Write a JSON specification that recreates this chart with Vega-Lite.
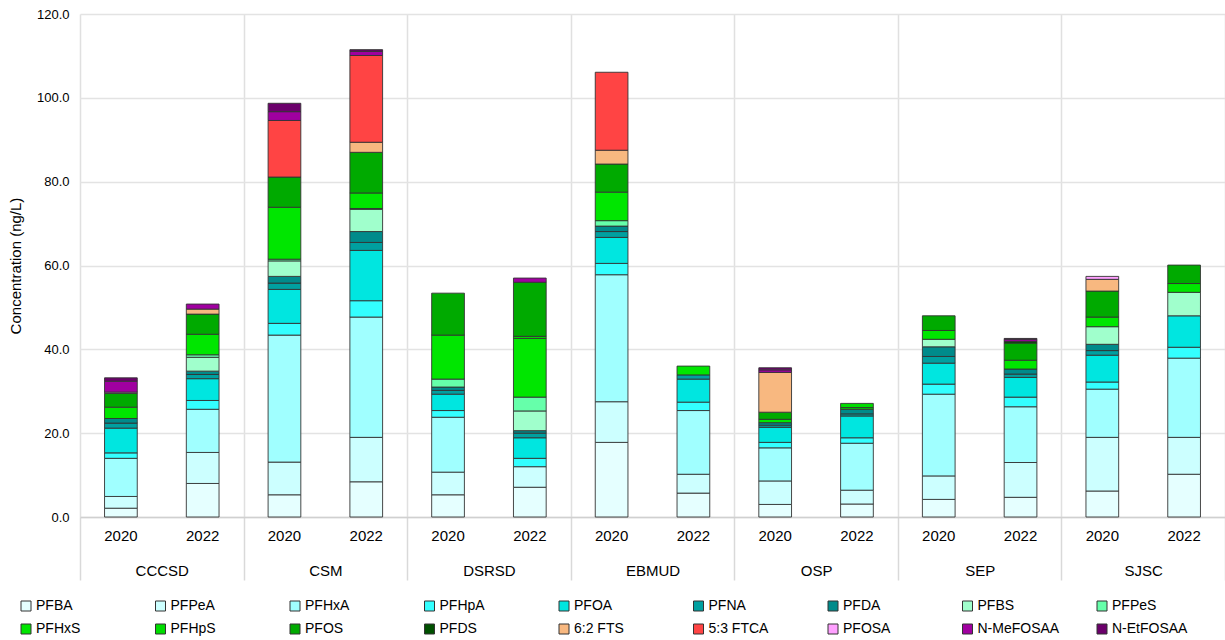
{
  "$schema": "https://vega.github.io/schema/vega-lite/v6.json",
  "autosize": {"type": "none"},
  "padding": {"left": 80, "top": 14, "right": 0, "bottom": 123},
  "width": 1145,
  "height": 503,
  "config": {"font": "Liberation Sans", "view": {"stroke": null}},
  "data": {"values": [
    {"site":"CCCSD","bar":"CCCSD 2020","compound":"PFBA","value":2.1},
    {"site":"CCCSD","bar":"CCCSD 2020","compound":"PFPeA","value":2.8},
    {"site":"CCCSD","bar":"CCCSD 2020","compound":"PFHxA","value":9.1},
    {"site":"CCCSD","bar":"CCCSD 2020","compound":"PFHpA","value":1.3},
    {"site":"CCCSD","bar":"CCCSD 2020","compound":"PFOA","value":5.9},
    {"site":"CCCSD","bar":"CCCSD 2020","compound":"PFNA","value":1.2},
    {"site":"CCCSD","bar":"CCCSD 2020","compound":"PFDA","value":1.1},
    {"site":"CCCSD","bar":"CCCSD 2020","compound":"PFHxS","value":2.7},
    {"site":"CCCSD","bar":"CCCSD 2020","compound":"PFOS","value":3.3},
    {"site":"CCCSD","bar":"CCCSD 2020","compound":"PFOSA","value":0.3},
    {"site":"CCCSD","bar":"CCCSD 2020","compound":"N-MeFOSAA","value":2.6},
    {"site":"CCCSD","bar":"CCCSD 2020","compound":"N-EtFOSAA","value":0.8},

    {"site":"CCCSD","bar":"CCCSD 2022","compound":"PFBA","value":8.0},
    {"site":"CCCSD","bar":"CCCSD 2022","compound":"PFPeA","value":7.4},
    {"site":"CCCSD","bar":"CCCSD 2022","compound":"PFHxA","value":10.3},
    {"site":"CCCSD","bar":"CCCSD 2022","compound":"PFHpA","value":2.1},
    {"site":"CCCSD","bar":"CCCSD 2022","compound":"PFOA","value":5.2},
    {"site":"CCCSD","bar":"CCCSD 2022","compound":"PFNA","value":1.0},
    {"site":"CCCSD","bar":"CCCSD 2022","compound":"PFDA","value":0.8},
    {"site":"CCCSD","bar":"CCCSD 2022","compound":"PFBS","value":3.3},
    {"site":"CCCSD","bar":"CCCSD 2022","compound":"PFPeS","value":0.6},
    {"site":"CCCSD","bar":"CCCSD 2022","compound":"PFHxS","value":4.9},
    {"site":"CCCSD","bar":"CCCSD 2022","compound":"PFOS","value":4.8},
    {"site":"CCCSD","bar":"CCCSD 2022","compound":"6:2 FTS","value":1.2},
    {"site":"CCCSD","bar":"CCCSD 2022","compound":"N-MeFOSAA","value":1.2},

    {"site":"CSM","bar":"CSM 2020","compound":"PFBA","value":5.3},
    {"site":"CSM","bar":"CSM 2020","compound":"PFPeA","value":7.8},
    {"site":"CSM","bar":"CSM 2020","compound":"PFHxA","value":30.3},
    {"site":"CSM","bar":"CSM 2020","compound":"PFHpA","value":2.8},
    {"site":"CSM","bar":"CSM 2020","compound":"PFOA","value":8.1},
    {"site":"CSM","bar":"CSM 2020","compound":"PFNA","value":1.5},
    {"site":"CSM","bar":"CSM 2020","compound":"PFDA","value":1.6},
    {"site":"CSM","bar":"CSM 2020","compound":"PFBS","value":3.7},
    {"site":"CSM","bar":"CSM 2020","compound":"PFPeS","value":0.4},
    {"site":"CSM","bar":"CSM 2020","compound":"PFHxS","value":12.4},
    {"site":"CSM","bar":"CSM 2020","compound":"PFOS","value":7.2},
    {"site":"CSM","bar":"CSM 2020","compound":"5:3 FTCA","value":13.5},
    {"site":"CSM","bar":"CSM 2020","compound":"N-MeFOSAA","value":2.1},
    {"site":"CSM","bar":"CSM 2020","compound":"N-EtFOSAA","value":2.0},

    {"site":"CSM","bar":"CSM 2022","compound":"PFBA","value":8.4},
    {"site":"CSM","bar":"CSM 2022","compound":"PFPeA","value":10.6},
    {"site":"CSM","bar":"CSM 2022","compound":"PFHxA","value":28.7},
    {"site":"CSM","bar":"CSM 2022","compound":"PFHpA","value":3.9},
    {"site":"CSM","bar":"CSM 2022","compound":"PFOA","value":12.0},
    {"site":"CSM","bar":"CSM 2022","compound":"PFNA","value":1.9},
    {"site":"CSM","bar":"CSM 2022","compound":"PFDA","value":2.6},
    {"site":"CSM","bar":"CSM 2022","compound":"PFBS","value":5.3},
    {"site":"CSM","bar":"CSM 2022","compound":"PFPeS","value":0.2},
    {"site":"CSM","bar":"CSM 2022","compound":"PFHxS","value":3.7},
    {"site":"CSM","bar":"CSM 2022","compound":"PFOS","value":9.7},
    {"site":"CSM","bar":"CSM 2022","compound":"6:2 FTS","value":2.4},
    {"site":"CSM","bar":"CSM 2022","compound":"5:3 FTCA","value":20.7},
    {"site":"CSM","bar":"CSM 2022","compound":"N-MeFOSAA","value":1.0},
    {"site":"CSM","bar":"CSM 2022","compound":"N-EtFOSAA","value":0.4},

    {"site":"DSRSD","bar":"DSRSD 2020","compound":"PFBA","value":5.3},
    {"site":"DSRSD","bar":"DSRSD 2020","compound":"PFPeA","value":5.4},
    {"site":"DSRSD","bar":"DSRSD 2020","compound":"PFHxA","value":13.1},
    {"site":"DSRSD","bar":"DSRSD 2020","compound":"PFHpA","value":1.6},
    {"site":"DSRSD","bar":"DSRSD 2020","compound":"PFOA","value":3.9},
    {"site":"DSRSD","bar":"DSRSD 2020","compound":"PFNA","value":0.9},
    {"site":"DSRSD","bar":"DSRSD 2020","compound":"PFDA","value":0.8},
    {"site":"DSRSD","bar":"DSRSD 2020","compound":"PFPeS","value":1.9},
    {"site":"DSRSD","bar":"DSRSD 2020","compound":"PFHxS","value":10.5},
    {"site":"DSRSD","bar":"DSRSD 2020","compound":"PFOS","value":10.0},

    {"site":"DSRSD","bar":"DSRSD 2022","compound":"PFBA","value":7.1},
    {"site":"DSRSD","bar":"DSRSD 2022","compound":"PFPeA","value":4.9},
    {"site":"DSRSD","bar":"DSRSD 2022","compound":"PFHpA","value":2.0},
    {"site":"DSRSD","bar":"DSRSD 2022","compound":"PFOA","value":4.9},
    {"site":"DSRSD","bar":"DSRSD 2022","compound":"PFNA","value":1.1},
    {"site":"DSRSD","bar":"DSRSD 2022","compound":"PFDA","value":0.6},
    {"site":"DSRSD","bar":"DSRSD 2022","compound":"PFBS","value":4.7},
    {"site":"DSRSD","bar":"DSRSD 2022","compound":"PFPeS","value":3.3},
    {"site":"DSRSD","bar":"DSRSD 2022","compound":"PFHxS","value":14.0},
    {"site":"DSRSD","bar":"DSRSD 2022","compound":"PFHpS","value":0.5},
    {"site":"DSRSD","bar":"DSRSD 2022","compound":"PFOS","value":12.9},
    {"site":"DSRSD","bar":"DSRSD 2022","compound":"N-MeFOSAA","value":1.0},

    {"site":"EBMUD","bar":"EBMUD 2020","compound":"PFBA","value":17.8},
    {"site":"EBMUD","bar":"EBMUD 2020","compound":"PFPeA","value":9.7},
    {"site":"EBMUD","bar":"EBMUD 2020","compound":"PFHxA","value":30.3},
    {"site":"EBMUD","bar":"EBMUD 2020","compound":"PFHpA","value":2.7},
    {"site":"EBMUD","bar":"EBMUD 2020","compound":"PFOA","value":6.2},
    {"site":"EBMUD","bar":"EBMUD 2020","compound":"PFNA","value":1.4},
    {"site":"EBMUD","bar":"EBMUD 2020","compound":"PFDA","value":1.3},
    {"site":"EBMUD","bar":"EBMUD 2020","compound":"PFPeS","value":1.3},
    {"site":"EBMUD","bar":"EBMUD 2020","compound":"PFHxS","value":6.8},
    {"site":"EBMUD","bar":"EBMUD 2020","compound":"PFOS","value":6.7},
    {"site":"EBMUD","bar":"EBMUD 2020","compound":"6:2 FTS","value":3.3},
    {"site":"EBMUD","bar":"EBMUD 2020","compound":"5:3 FTCA","value":18.6},

    {"site":"EBMUD","bar":"EBMUD 2022","compound":"PFBA","value":5.7},
    {"site":"EBMUD","bar":"EBMUD 2022","compound":"PFPeA","value":4.5},
    {"site":"EBMUD","bar":"EBMUD 2022","compound":"PFHxA","value":15.2},
    {"site":"EBMUD","bar":"EBMUD 2022","compound":"PFHpA","value":2.0},
    {"site":"EBMUD","bar":"EBMUD 2022","compound":"PFOA","value":5.5},
    {"site":"EBMUD","bar":"EBMUD 2022","compound":"PFNA","value":1.0},
    {"site":"EBMUD","bar":"EBMUD 2022","compound":"PFHxS","value":2.1},

    {"site":"OSP","bar":"OSP 2020","compound":"PFBA","value":3.0},
    {"site":"OSP","bar":"OSP 2020","compound":"PFPeA","value":5.6},
    {"site":"OSP","bar":"OSP 2020","compound":"PFHxA","value":7.9},
    {"site":"OSP","bar":"OSP 2020","compound":"PFHpA","value":1.3},
    {"site":"OSP","bar":"OSP 2020","compound":"PFOA","value":3.6},
    {"site":"OSP","bar":"OSP 2020","compound":"PFNA","value":0.5},
    {"site":"OSP","bar":"OSP 2020","compound":"PFDA","value":0.6},
    {"site":"OSP","bar":"OSP 2020","compound":"PFHxS","value":0.8},
    {"site":"OSP","bar":"OSP 2020","compound":"PFOS","value":1.7},
    {"site":"OSP","bar":"OSP 2020","compound":"6:2 FTS","value":9.5},
    {"site":"OSP","bar":"OSP 2020","compound":"N-MeFOSAA","value":0.6},
    {"site":"OSP","bar":"OSP 2020","compound":"N-EtFOSAA","value":0.5},

    {"site":"OSP","bar":"OSP 2022","compound":"PFBA","value":3.1},
    {"site":"OSP","bar":"OSP 2022","compound":"PFPeA","value":3.3},
    {"site":"OSP","bar":"OSP 2022","compound":"PFHxA","value":11.2},
    {"site":"OSP","bar":"OSP 2022","compound":"PFHpA","value":1.3},
    {"site":"OSP","bar":"OSP 2022","compound":"PFOA","value":5.2},
    {"site":"OSP","bar":"OSP 2022","compound":"PFNA","value":0.5},
    {"site":"OSP","bar":"OSP 2022","compound":"PFDA","value":1.1},
    {"site":"OSP","bar":"OSP 2022","compound":"PFHxS","value":0.4},
    {"site":"OSP","bar":"OSP 2022","compound":"PFHpS","value":1.0},

    {"site":"SEP","bar":"SEP 2020","compound":"PFBA","value":4.2},
    {"site":"SEP","bar":"SEP 2020","compound":"PFPeA","value":5.6},
    {"site":"SEP","bar":"SEP 2020","compound":"PFHxA","value":19.5},
    {"site":"SEP","bar":"SEP 2020","compound":"PFHpA","value":2.4},
    {"site":"SEP","bar":"SEP 2020","compound":"PFOA","value":5.0},
    {"site":"SEP","bar":"SEP 2020","compound":"PFNA","value":1.6},
    {"site":"SEP","bar":"SEP 2020","compound":"PFDA","value":2.3},
    {"site":"SEP","bar":"SEP 2020","compound":"PFBS","value":1.8},
    {"site":"SEP","bar":"SEP 2020","compound":"PFHxS","value":2.1},
    {"site":"SEP","bar":"SEP 2020","compound":"PFOS","value":3.5},

    {"site":"SEP","bar":"SEP 2022","compound":"PFBA","value":4.7},
    {"site":"SEP","bar":"SEP 2022","compound":"PFPeA","value":8.3},
    {"site":"SEP","bar":"SEP 2022","compound":"PFHxA","value":13.3},
    {"site":"SEP","bar":"SEP 2022","compound":"PFHpA","value":2.3},
    {"site":"SEP","bar":"SEP 2022","compound":"PFOA","value":4.7},
    {"site":"SEP","bar":"SEP 2022","compound":"PFNA","value":0.8},
    {"site":"SEP","bar":"SEP 2022","compound":"PFDA","value":1.2},
    {"site":"SEP","bar":"SEP 2022","compound":"PFHxS","value":2.1},
    {"site":"SEP","bar":"SEP 2022","compound":"PFOS","value":4.1},
    {"site":"SEP","bar":"SEP 2022","compound":"PFDS","value":0.4},
    {"site":"SEP","bar":"SEP 2022","compound":"N-MeFOSAA","value":0.5},
    {"site":"SEP","bar":"SEP 2022","compound":"N-EtFOSAA","value":0.2},

    {"site":"SJSC","bar":"SJSC 2020","compound":"PFBA","value":6.2},
    {"site":"SJSC","bar":"SJSC 2020","compound":"PFPeA","value":12.8},
    {"site":"SJSC","bar":"SJSC 2020","compound":"PFHxA","value":11.5},
    {"site":"SJSC","bar":"SJSC 2020","compound":"PFHpA","value":1.7},
    {"site":"SJSC","bar":"SJSC 2020","compound":"PFOA","value":6.4},
    {"site":"SJSC","bar":"SJSC 2020","compound":"PFNA","value":1.1},
    {"site":"SJSC","bar":"SJSC 2020","compound":"PFDA","value":1.5},
    {"site":"SJSC","bar":"SJSC 2020","compound":"PFBS","value":4.2},
    {"site":"SJSC","bar":"SJSC 2020","compound":"PFHxS","value":2.3},
    {"site":"SJSC","bar":"SJSC 2020","compound":"PFOS","value":6.2},
    {"site":"SJSC","bar":"SJSC 2020","compound":"6:2 FTS","value":2.8},
    {"site":"SJSC","bar":"SJSC 2020","compound":"PFOSA","value":0.7},

    {"site":"SJSC","bar":"SJSC 2022","compound":"PFBA","value":10.2},
    {"site":"SJSC","bar":"SJSC 2022","compound":"PFPeA","value":8.8},
    {"site":"SJSC","bar":"SJSC 2022","compound":"PFHxA","value":18.9},
    {"site":"SJSC","bar":"SJSC 2022","compound":"PFHpA","value":2.6},
    {"site":"SJSC","bar":"SJSC 2022","compound":"PFOA","value":7.5},
    {"site":"SJSC","bar":"SJSC 2022","compound":"PFBS","value":5.6},
    {"site":"SJSC","bar":"SJSC 2022","compound":"PFHxS","value":2.1},
    {"site":"SJSC","bar":"SJSC 2022","compound":"PFOS","value":4.4}
  ]},
  "layer": [
    {
      "transform": [
        {"calculate": "indexof(['PFBA','PFPeA','PFHxA','PFHpA','PFOA','PFNA','PFDA','PFBS','PFPeS','PFHxS','PFHpS','PFOS','PFDS','6:2 FTS','5:3 FTCA','PFOSA','N-MeFOSAA','N-EtFOSAA'], datum.compound)", "as": "stackOrder"}
      ],
      "mark": {"type": "bar", "stroke": "#333333", "strokeWidth": 0.9},
      "encoding": {
        "x": {
          "field": "bar", "type": "nominal", "sort": null,
          "scale": {"paddingInner": 0.6, "paddingOuter": 0.3},
          "axis": {"title": null, "labelExpr": "slice(datum.label, -4)", "labelAngle": 0, "ticks": false, "domain": false, "grid": false, "labelFontSize": 15, "labelColor": "#000000", "labelPadding": 11}
        },
        "y": {
          "field": "value", "type": "quantitative", "stack": "zero",
          "scale": {"domain": [0, 120], "nice": false},
          "axis": {"title": "Concentration (ng/L)", "titleFontSize": 15, "titleFontWeight": "normal", "titleColor": "#000000", "titlePadding": 13, "values": [0, 20, 40, 60, 80, 100, 120], "format": ".1f", "labelFontSize": 13, "labelColor": "#000000", "labelPadding": 11, "ticks": false, "domain": false, "gridColor": "#E3E3E3", "gridWidth": 1.5}
        },
        "order": {"field": "stackOrder", "type": "quantitative", "sort": "ascending"},
        "color": {
          "field": "compound", "type": "nominal",
          "sort": ["PFBA","PFPeA","PFHxA","PFHpA","PFOA","PFNA","PFDA","PFBS","PFPeS","PFHxS","PFHpS","PFOS","PFDS","6:2 FTS","5:3 FTCA","PFOSA","N-MeFOSAA","N-EtFOSAA"],
          "scale": {
            "domain": ["PFBA","PFPeA","PFHxA","PFHpA","PFOA","PFNA","PFDA","PFBS","PFPeS","PFHxS","PFHpS","PFOS","PFDS","6:2 FTS","5:3 FTCA","PFOSA","N-MeFOSAA","N-EtFOSAA"],
            "range": ["#E5FFFF","#CCFFFF","#A0FFFF","#33FFFF","#00E6E0","#00A0A0","#008B8B","#A0FFCC","#66FFAA","#00E600","#00DD00","#00AA00","#005000","#F8B880","#FF4444","#FFA0FF","#A000A0","#6B006B"]
          },
          "legend": {"title": null, "orient": "none", "legendX": -61, "legendY": 585, "direction": "horizontal", "columns": 9, "gridAlign": "all", "columnPadding": 35.5, "rowPadding": 9, "symbolType": "square", "symbolSize": 100, "symbolStrokeColor": "#333333", "symbolStrokeWidth": 1, "labelFontSize": 14, "labelColor": "#000000", "labelOffset": 3}
        }
      }
    },
    {
      "mark": {"type": "rule", "opacity": 0},
      "encoding": {
        "x": {
          "field": "site", "type": "nominal", "sort": null,
          "scale": {"paddingInner": 0, "paddingOuter": 0},
          "axis": {"orient": "bottom", "title": null, "tickBand": "extent", "tickSize": 63, "tickColor": "#D9D9D9", "tickWidth": 1.5, "grid": true, "gridColor": "#E0E0E0", "gridWidth": 1.5, "domainColor": "#D0D0D0", "domainWidth": 1.5, "labelPadding": -17, "labelFontSize": 15, "labelColor": "#000000", "labelAngle": 0}
        }
      }
    }
  ],
  "resolve": {"scale": {"x": "independent"}, "axis": {"x": "independent"}}
}
